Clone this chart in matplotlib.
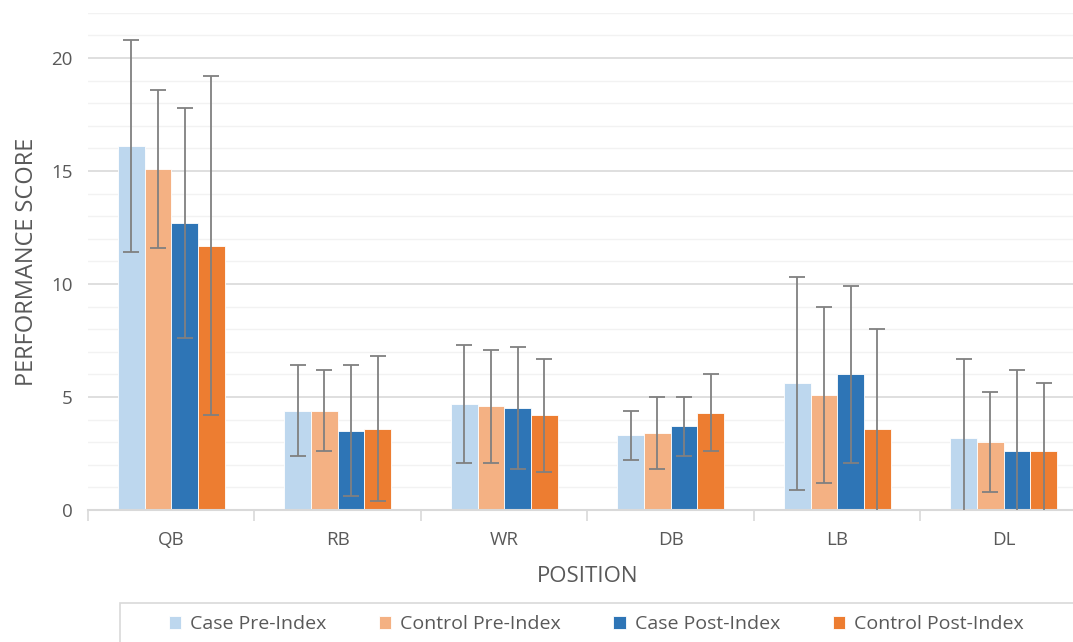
import matplotlib
matplotlib.use("Agg")
import matplotlib.pyplot as plt
import numpy as np
from matplotlib.patches import Rectangle

positions = ["QB", "RB", "WR", "DB", "LB", "DL"]
series_names = ["Case Pre-Index", "Control Pre-Index", "Case Post-Index", "Control Post-Index"]
case_pre = [16.1, 4.4, 4.7, 3.3, 5.6, 3.2]
control_pre = [15.1, 4.4, 4.6, 3.4, 5.1, 3.0]
case_post = [12.7, 3.5, 4.5, 3.7, 6.0, 2.6]
control_post = [11.7, 3.6, 4.2, 4.3, 3.6, 2.6]
case_pre_err = [4.7, 2.0, 2.6, 1.1, 4.7, 3.5]
control_pre_err = [3.5, 1.8, 2.5, 1.6, 3.9, 2.2]
case_post_err = [5.1, 2.9, 2.7, 1.3, 3.9, 3.6]
control_post_err = [7.5, 3.2, 2.5, 1.7, 4.4, 3.0]

values = [case_pre, control_pre, case_post, control_post]
errors = [case_pre_err, control_pre_err, case_post_err, control_post_err]
colors = ["#BDD7EE", "#F4B183", "#2E75B6", "#ED7D31"]

plt.rcParams['font.family'] = ['Open Sans', 'DejaVu Sans']
text_color = "#595959"

fig = plt.figure(figsize=(10.73, 6.42), dpi=100)
ax = fig.add_axes([88/1073, 132/642, (1087-88)/1073, (510-12.8)/642])

n = len(positions)
x = np.arange(n)
bw = 0.16
handles = []
for i, (vals, errs, c) in enumerate(zip(values, errors, colors)):
    offs = (i - 1.5) * bw
    b = ax.bar(x + offs, vals, bw, color=c, edgecolor="white", linewidth=0.6,
               label=series_names[i], zorder=2)
    handles.append(b)
    ax.errorbar(x + offs, vals, yerr=errs, fmt="none", ecolor="#808080",
                elinewidth=1.3, capsize=6, capthick=1.3, zorder=3)

ax.set_xlim(-0.5, n - 0.5)
ax.set_ylim(0, 22)
ax.set_yticks([0, 5, 10, 15, 20])
ax.set_yticks(np.arange(0, 23, 1), minor=True)
ax.yaxis.grid(True, which="major", color="#D9D9D9", linewidth=1.2, zorder=0)
ax.yaxis.grid(True, which="minor", color="#F2F2F2", linewidth=1.0, zorder=0)
ax.set_axisbelow(True)

ax.set_xticks(x)
ax.set_xticklabels(positions)
ax.set_xticks(np.arange(-0.5, n, 1.0), minor=True)
ax.tick_params(axis="x", which="major", length=0, pad=15, labelsize=13.5, labelcolor=text_color)
ax.tick_params(axis="x", which="minor", length=8, width=1.2, color="#D9D9D9", direction="out")
ax.tick_params(axis="y", which="both", length=0, pad=11, labelsize=13.5, labelcolor=text_color)

for s in ["left", "right", "top"]:
    ax.spines[s].set_visible(False)
ax.spines["bottom"].set_color("#D9D9D9")
ax.spines["bottom"].set_linewidth(1.5)

ax.set_xlabel("POSITION", fontsize=16, color=text_color, labelpad=12)
ax.set_ylabel("PERFORMANCE SCORE", fontsize=17, color=text_color, labelpad=9)

# Legend frame (cut off by figure edge)
fig.patches.append(Rectangle((120/1073, -0.05), 1.0, (642-603)/642 + 0.05,
                             transform=fig.transFigure, fill=False,
                             edgecolor="#D9D9D9", linewidth=1.2))
leg = fig.legend(handles=handles, labels=series_names, loc="center left",
                 bbox_to_anchor=(151/1073, 1 - 624/642), ncol=4, frameon=False,
                 fontsize=14, handlelength=0.65, handleheight=0.65, handletextpad=0.45,
                 columnspacing=2.7, labelcolor=text_color)

fig.savefig("out.png", dpi=100)
